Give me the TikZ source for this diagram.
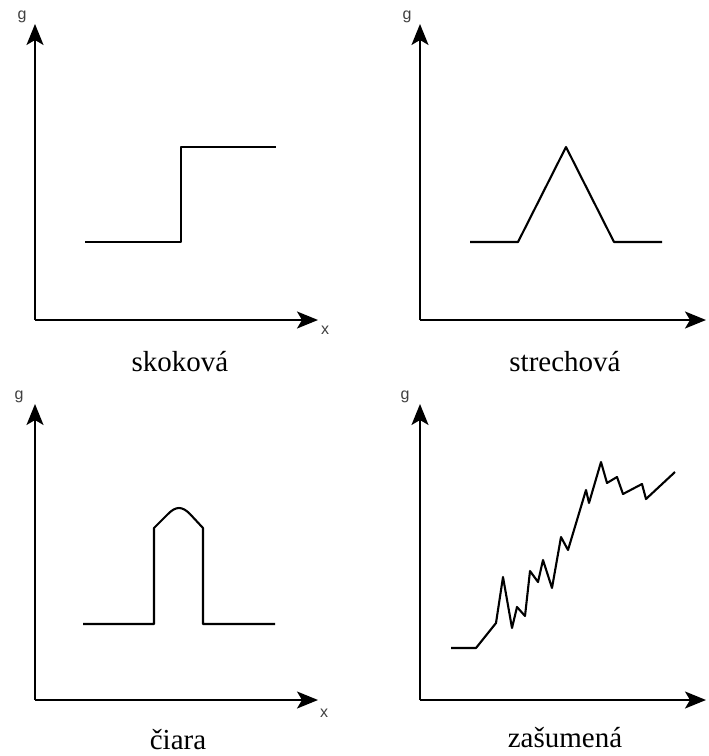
\documentclass[tikz,border=0pt]{standalone}
\usepackage{fontspec}
\setmainfont{Liberation Serif}
\setsansfont{Liberation Sans}
\usetikzlibrary{arrows.meta}
\tikzset{
  axis/.style={line width=1.9pt, -{Stealth[length=21pt,width=17pt,inset=5pt]}},
  curve/.style={line width=2.1pt, line join=round},
  axlabel/.style={font=\sffamily\fontsize{16}{16}\selectfont, text=black!75},
  caption/.style={font=\fontsize{29}{29}\selectfont}
}
\begin{document}
\begin{tikzpicture}[x=1pt,y=-1pt]
    \useasboundingbox (0,0) rectangle (709,756);
    % skokova
    \draw[axis] (35,320) -- (35,24);
    \draw[axis] (35,320) -- (318,320);
    \node[axlabel] (g1) at (22,17) {g};
    \node[axlabel] (x1) at (325,330) {x};
    \draw[curve] (85,242) -- (181,242) -- (181,147) -- (276,147);
    \node[caption] (c1) at (180,362) {skoková};
    % strechova
    \draw[axis] (420,320) -- (420,24);
    \draw[axis] (420,320) -- (706,320);
    \node[axlabel] (g2) at (407,17) {g};
    \node[axlabel] (x2) at (713,331) {x};
    \draw[curve] (470,242) -- (518,242) -- (566,147) -- (614,242) -- (662,242);
    \node[caption] (c2) at (565,362) {strechová};
    % ciara
    \draw[axis] (35,700) -- (35,404);
    \draw[axis] (35,700) -- (318,700);
    \node[axlabel] (g3) at (19,397) {g};
    \node[axlabel] (x3) at (324,713) {x};
    \draw[curve] (83,624) -- (154,624) -- (154,528) -- (168,514)
        .. controls (176,506) and (182,506) .. (190,514) -- (203,528) -- (203,624) -- (275,624);
    \node[caption] (c3) at (178,740) {čiara};
    % zasumena
    \draw[axis] (420,700) -- (420,404);
    \draw[axis] (420,700) -- (706,700);
    \node[axlabel] (g4) at (405,397) {g};
    \node[axlabel] (x4) at (713,712) {x};
    \draw[curve] (451,648) -- (476,648) -- (496,623) -- (503,577) -- (512,628)
        -- (517,607) -- (525,616) -- (530,571) -- (538,582) -- (543,560)
        -- (552,588) -- (561,537) -- (568,550) -- (586,490) -- (589,503)
        -- (601,462) -- (607,483) -- (617,477) -- (623,494) -- (642,484)
        -- (646,499) -- (675,472);
    \node[caption] (c4) at (565,738) {zašumená};
\end{tikzpicture}
\end{document}
